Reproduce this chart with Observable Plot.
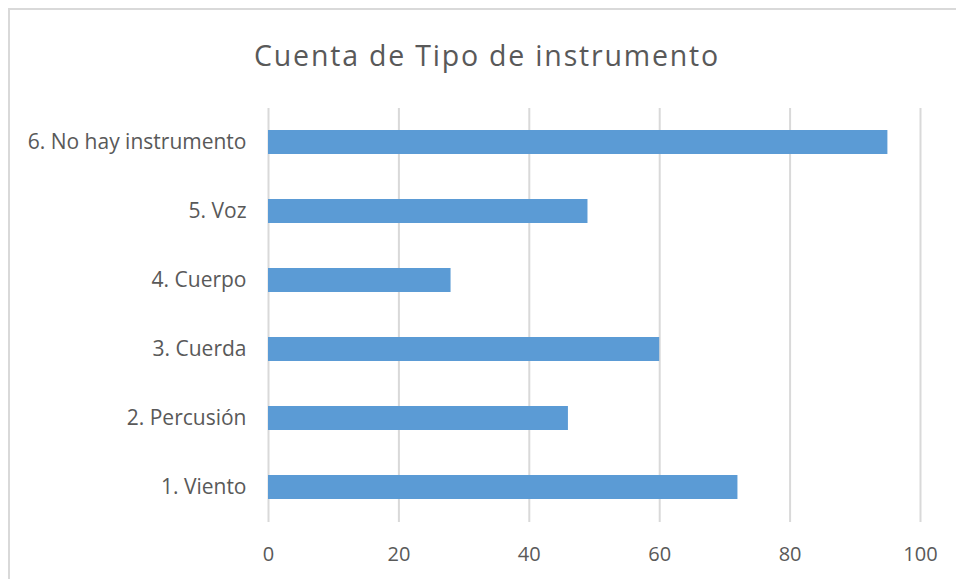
<!DOCTYPE html>
<html>
<head>
<meta charset="utf-8">
<script src="https://cdn.jsdelivr.net/npm/d3@7"></script>
<script src="https://cdn.jsdelivr.net/npm/@observablehq/plot@0.6"></script>
<style>
  html, body { margin: 0; padding: 0; background: #fff; }
  #wrap { position: relative; width: 956px; height: 579px; overflow: hidden; font-family: "Open Sans", Lato, sans-serif; }
  #frame { position: absolute; left: 8px; top: 8px; width: 1100px; height: 700px; border-left: 2px solid #d9d9d9; border-top: 2px solid #d9d9d9; box-sizing: border-box; }
  #title { position: absolute; left: 0; top: 0; width: 974px; height: 90px; line-height: 110px; text-align: center; font-size: 28.5px; letter-spacing: 1.8px; color: #595959; }
  #chart { position: absolute; left: 0; top: 90px; }
</style>
</head>
<body>
<div id="wrap">
  <div id="frame"></div>
  <div id="title">Cuenta de Tipo de instrumento</div>
  <div id="chart"></div>
</div>
<script>
const categories = ["6. No hay instrumento", "5. Voz", "4. Cuerpo", "3. Cuerda", "2. Percusión", "1. Viento"];
const counts = [95, 49, 28, 60, 46, 72];
const xTicks = [0, 20, 40, 60, 80, 100];

const data = categories.map((c, i) => ({category: c, count: counts[i]}));

const plot = Plot.plot({
  width: 956,
  height: 489,
  marginLeft: 268,
  marginRight: 36,
  marginTop: 18,
  marginBottom: 57,
  style: {fontFamily: "'Open Sans', Lato, sans-serif", fontSize: "20px", color: "#595959", background: "transparent"},
  x: {domain: [0, 100], ticks: xTicks, label: null},
  y: {domain: categories, paddingInner: 0.65, paddingOuter: 0.325, label: null},
  marks: [
    Plot.gridX(xTicks, {stroke: "#d9d9d9", strokeOpacity: 1, strokeWidth: 2}),
    Plot.barX(data, {x: "count", y: "category", fill: "#5b9bd5"}),
    Plot.axisX({ticks: xTicks, tickSize: 0, tickPadding: 24, fill: "#595959", fontSize: 20}),
    Plot.axisY({tickSize: 0, tickPadding: 22, fill: "#595959", fontSize: 21})
  ]
});
document.getElementById("chart").appendChild(plot);
</script>
</body>
</html>
